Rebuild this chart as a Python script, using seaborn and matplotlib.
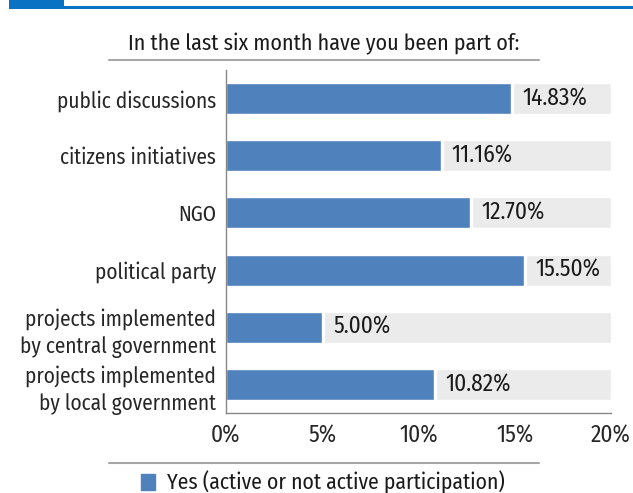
import matplotlib
matplotlib.use("Agg")
import matplotlib.pyplot as plt
from matplotlib import font_manager
from matplotlib.patches import Rectangle, Patch
from matplotlib.lines import Line2D
import numpy as np
import pandas as pd
import seaborn as sns

categories = [
    "public discussions",
    "citizens initiatives",
    "NGO",
    "political party",
    "projects implemented\nby central government",
    "projects implemented\nby local government",
]
yes_share = [14.83, 11.16, 12.70, 15.50, 5.00, 10.82]
x_ticks = [0, 5, 10, 15, 20]
x_tick_labels = ["0%", "5%", "10%", "15%", "20%"]
title = "In the last six month have you been part of:"
legend_label = "Yes (active or not active participation)"

BLUE = "#4f81bd"
TRACK = "#ebebeb"
HEADER = "#0a72c2"
RULE = "#a6a6a6"

sns.set_style("white")
available = {f.name for f in font_manager.fontManager.ttflist}
family = [f for f in ["Fira Sans Condensed", "Roboto Condensed", "Open Sans Condensed", "Roboto"]
          if f in available]
plt.rcParams["font.family"] = family + ["DejaVu Sans"]
plt.rcParams["text.color"] = "#1a1a1a"

W, H = 633, 493
fig = plt.figure(figsize=(W / 100, H / 100), dpi=100)
ax = fig.add_axes([226 / W, 1 - 413 / H, 385 / W, 343 / H])

df = pd.DataFrame({"category": categories, "share": yes_share})
sns.barplot(data=df, x="share", y="category", orient="h", color=BLUE,
            saturation=1, width=0.54, ax=ax, zorder=2)

vals = np.array(yes_share)
gap = 0.1
ax.barh(np.arange(len(categories)), 20 - vals - gap, left=vals + gap,
        height=0.54, color=TRACK, zorder=1)

fs = 15.3
fs_num = 16.8
for i, v in enumerate(yes_share):
    ax.annotate(f"{v:.2f}%", xy=(v, i), xytext=(8, 0), textcoords="offset points",
                va="center", ha="left", fontsize=fs_num, zorder=3)

ax.set_xlim(0, 20)
ax.set_ylim(len(categories) - 0.5, -0.5)
ax.set_xticks(x_ticks)
ax.set_xticklabels(x_tick_labels, fontsize=fs_num)
ax.set_yticks(range(len(categories)))
ax.set_yticklabels(categories, fontsize=fs, linespacing=1.38)
ax.set_yticks(np.arange(-0.5, len(categories), 1.0), minor=True)
ax.tick_params(axis="y", which="major", length=0, pad=7)
ax.tick_params(axis="y", which="minor", length=5, color="#888888", width=1, direction="out")
ax.tick_params(axis="x", length=5, color="#888888", width=1, direction="out", pad=3)
ax.set_xlabel("")
ax.set_ylabel("")
for side in ["top", "right"]:
    ax.spines[side].set_visible(False)
for side in ["left", "bottom"]:
    ax.spines[side].set_color("#888888")
    ax.spines[side].set_linewidth(1)

# header band and rules
fig.add_artist(Rectangle((9 / W, 1 - 7 / H), 55 / W, 7 / H, transform=fig.transFigure,
                         color=HEADER, lw=0))
fig.add_artist(Rectangle((9 / W, 1 - 8.5 / H), (W - 9) / W, 3 / H, transform=fig.transFigure,
                         color=HEADER, lw=0))
fig.add_artist(Line2D([109 / W, 539 / W], [1 - 60 / H] * 2, color=RULE, lw=1.5))
fig.add_artist(Line2D([109 / W, 539 / W], [1 - 462.5 / H] * 2, color=RULE, lw=1.5))

fig.text(323.5 / W, 1 - 50 / H, title, ha="center", va="baseline", fontsize=15.8)

fig.legend(handles=[Patch(color=BLUE, label=legend_label)], loc="center",
           bbox_to_anchor=(323 / W, 1 - 482 / H), frameon=False, fontsize=15.6,
           handlelength=0.65, handleheight=0.75, handletextpad=0.55, borderpad=0)

fig.savefig("out.png", dpi=100)
